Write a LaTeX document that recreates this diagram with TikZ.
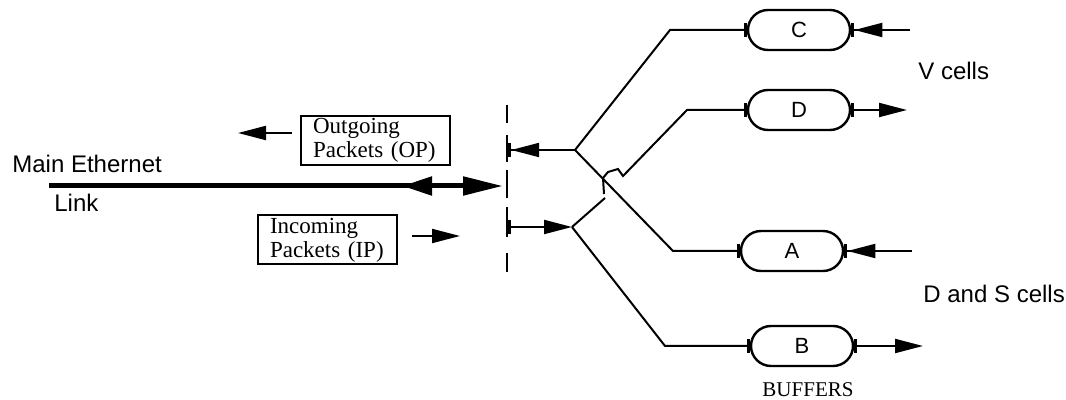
\documentclass[tikz,border=0pt]{standalone}
\usepackage{fontspec}
\setmainfont{Liberation Serif}
\setsansfont{Liberation Sans}
\usepackage{tikz}
\usetikzlibrary{arrows.meta,positioning,calc}

\tikzset{
  wire/.style={line width=1pt},
  head/.style={-{Triangle[length=14pt,width=7pt]}},
  intip/.style={-{Triangle[length=14pt,width=7pt] Bar[width=7pt,line width=1.6pt]}},
  outtip/.style={{Bar[width=7pt,line width=1.6pt]}-{Triangle[length=14pt,width=7pt]}},
  bartip/.style={-{Bar[width=7pt,line width=1.6pt]}},
  buffer/.style={draw, line width=1.2pt, rounded corners=10pt, minimum width=51pt,
    minimum height=20pt, inner sep=0pt, font=\sffamily\fontsize{11}{13}\selectfont},
  pktbox/.style={draw, line width=1pt, align=left, inner xsep=6pt, inner ysep=1pt,
    minimum height=24.5pt, font=\fontsize{11.5}{12}\selectfont},
  sidelabel/.style={font=\sffamily\fontsize{12}{14}\selectfont, inner sep=0pt}
}

\begin{document}
\begin{tikzpicture}[x=0.5pt, y=-0.5pt]
    \useasboundingbox (0,0) rectangle (1066,400);

    % main link
    \coordinate (linkL) at (49,186);
    \coordinate (linkR) at (503,186);
    \coordinate (linkMb) at (434,186);
    \coordinate (linkM) at (402,186);
    \draw[line width=2.5pt, -{Triangle[length=20pt,width=9pt]}] (linkL) -- (linkR);
    \draw[line width=2.5pt, -{Triangle[length=15pt,width=9pt]}] (linkMb) -- (linkM);
    \node[sidelabel, anchor=base west] (mainlbl) at (12,173) {Main Ethernet};
    \node[sidelabel, anchor=base west] (linklbl) at (54,212) {Link};

    % packet boxes
    \node[pktbox, text width=62.5pt] (op) at (375.5,140.5) {Outgoing\\Packets (OP)};
    \node[pktbox, text width=57.5pt] (ip) at (327.5,240) {Incoming\\Packets (IP)};
    \coordinate (opA) at (292,133);
    \coordinate (opB) at (238,133);
    \draw[wire, head] (opA) -- (opB);
    \coordinate (ipA) at (412,236);
    \coordinate (ipB) at (460,236);
    \draw[wire, head] (ipA) -- (ipB);

    % port (dashed)
    \draw[line width=1.2pt] (507,105) -- (507,123) (507,135) -- (507,162)
        (507,170) -- (507,198) (507,207) -- (507,237) (507,253) -- (507,272);

    % buffers
    \node[buffer] (C) at (799,30) {C};
    \node[buffer] (D) at (799,110) {D};
    \node[buffer] (A) at (792,251) {A};
    \node[buffer] (B) at (802,346) {B};
    \node[anchor=base, inner sep=0pt, font=\fontsize{10.5}{12}\selectfont] (buflbl) at (808,397) {BUFFERS};

    % switch
    \coordinate (jout) at (575,150);
    \coordinate (jin) at (572,227);
    \coordinate (pout) at (508,150);
    \coordinate (pin) at (508,227);
    \draw[wire, intip] (jout) -- (pout);
    \draw[wire, outtip] (pin) -- (jin);

    \coordinate (bC) at (670,30);
    \coordinate (bD) at (687,110);
    \coordinate (bA) at (673,251);
    \coordinate (bB) at (665,346);
    \draw[wire, bartip] (jout) -- (bC) -- (C.west);
    \draw[wire, bartip] (jout) -- (bA) -- (A.west);
    \draw[wire, bartip] (jin) -- (bB) -- (B.west);

    % hop over the crossing
    \coordinate (hop1) at (605,198);
    \coordinate (hop2) at (604,194);
    \coordinate (hop3) at (603,178);
    \coordinate (hop4) at (608,172);
    \coordinate (hop5) at (618,169);
    \coordinate (hop6) at (623,176);
    \draw[wire] (jin) -- (hop1);
    \draw[wire, bartip] (hop2) -- (hop3) -- (hop4) -- (hop5) -- (hop6) -- (bD) -- (D.west);

    % cell streams
    \coordinate (inC) at (910,30);
    \coordinate (outD) at (907,110);
    \coordinate (inA) at (912,251);
    \coordinate (outB) at (923,346);
    \draw[wire, intip] (inC) -- (C.east);
    \draw[wire, outtip] (D.east) -- (outD);
    \draw[wire, intip] (inA) -- (A.east);
    \draw[wire, outtip] (B.east) -- (outB);
    \node[sidelabel, anchor=base west] (vlbl) at (918,80) {V cells};
    \node[sidelabel, anchor=base west] (dslbl) at (923,303) {D and S cells};
\end{tikzpicture}
\end{document}
